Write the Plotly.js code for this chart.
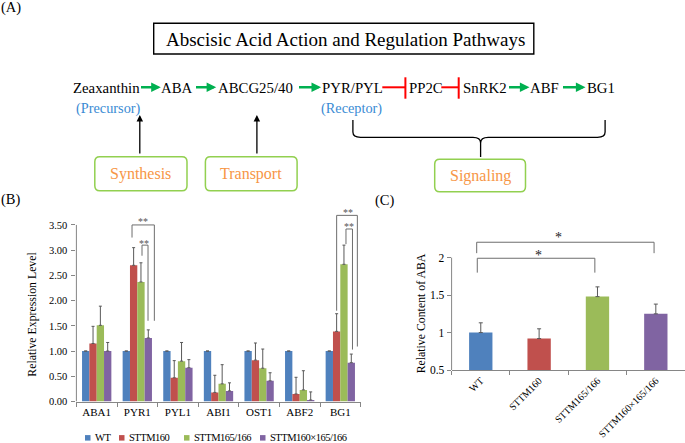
<!DOCTYPE html>
<html>
<head>
<meta charset="utf-8">
<script src="https://cdn.plot.ly/plotly-3.0.1.min.js"></script>
<style>html,body{margin:0;padding:0;background:#fff;}#chart{width:685px;height:443px;}</style>
</head>
<body>
<div id="chart"></div>
<script>
// ---- data ----
const genes = ['ABA1','PYR1','PYL1','ABI1','OST1','ABF2','BG1'];
const seriesNames = ['WT','STTM160','STTM165/166','STTM160×165/166'];
const wtExpr = [1.00,1.00,1.00,1.00,1.00,1.00,1.00];
const wtErr = [0,0,0,0,0,0,0];
const sttm160Expr = [1.15,2.70,0.47,0.18,0.82,0.15,1.39];
const sttm160Err = [0.34,0.35,0.34,0.34,0.34,0.33,0.35];
const sttm165Expr = [1.51,2.37,0.80,0.35,0.66,0.23,2.72];
const sttm165Err = [0.38,0.38,0.37,0.38,0.38,0.38,0.38];
const crossExpr = [1.00,1.26,0.67,0.21,0.41,0.03,0.77];
const crossErr = [0.17,0.16,0.16,0.16,0.16,0.16,0.17];

const abaLines = ['WT','STTM160','STTM165/166','STTM160×165/166'];
const abaContent = [1.00,0.92,1.48,1.25];
const abaErr = [0.13,0.13,0.13,0.13];

const colors = ['#4F81BD','#C0504D','#9BBB59','#8064A2'];

// ---- helpers ----
const W = 685, H = 443;
const px = x => x / W;
const py = y => 1 - y / H;
const SERIF = 'Liberation Serif, Times New Roman, serif';
const AX = '#868686';
const ERR = '#595959';

function txt(text, x, y, size, color, extra, ls) {
  const t = ls ? '<span style="letter-spacing:' + ls + 'px">' + text + '</span>' : text;
  return Object.assign({text: t, x: px(x), y: py(y), xref: 'paper', yref: 'paper',
    showarrow: false, xanchor: 'center', yanchor: 'middle',
    font: {family: SERIF, size: size, color: color || '#000'}}, extra || {});
}
function arrow(x1, y1, x0, y0, color, width, size) {
  return {text: '', x: px(x1), y: py(y1), xref: 'paper', yref: 'paper',
    showarrow: true, ax: x0 - x1, ay: y0 - y1, axref: 'pixel', ayref: 'pixel',
    arrowcolor: color, arrowwidth: width, arrowhead: 2, arrowsize: size, standoff: 0, startstandoff: 0};
}
function pline(x0, y0, x1, y1, color, width) {
  return {type: 'line', xref: 'paper', yref: 'paper', x0: px(x0), y0: py(y0), x1: px(x1), y1: py(y1),
    line: {color: color, width: width}};
}
function P(x, y) { return px(x).toFixed(5) + ',' + py(y).toFixed(5); }
function roundRect(x0, y0, x1, y1, r, color, width) {
  const d = 'M' + P(x0 + r, y0) + ' L' + P(x1 - r, y0) + ' Q' + P(x1, y0) + ' ' + P(x1, y0 + r) +
    ' L' + P(x1, y1 - r) + ' Q' + P(x1, y1) + ' ' + P(x1 - r, y1) +
    ' L' + P(x0 + r, y1) + ' Q' + P(x0, y1) + ' ' + P(x0, y1 - r) +
    ' L' + P(x0, y0 + r) + ' Q' + P(x0, y0) + ' ' + P(x0 + r, y0) + ' Z';
  return {type: 'path', xref: 'paper', yref: 'paper', path: d, line: {color: color, width: width}};
}
function bracket(xa, ya, xl, xr, ytop, ylb, yrb, color) {
  const s = (x0, y0, x1, y1) => ({type: 'line', xref: xa, yref: ya, x0: x0, y0: y0, x1: x1, y1: y1,
    line: {color: color, width: 1}});
  return [s(xl, ylb, xl, ytop), s(xl, ytop, xr, ytop), s(xr, ytop, xr, yrb)];
}

// ---- traces ----
const exprSeries = [wtExpr, sttm160Expr, sttm165Expr, crossExpr];
const exprErrs = [wtErr, sttm160Err, sttm165Err, crossErr];
const traces = exprSeries.map((vals, i) => ({
  type: 'bar', x: genes, y: vals, name: seriesNames[i], xaxis: 'x', yaxis: 'y',
  marker: {color: colors[i], line: {width: 0}},
  error_y: {type: 'data', symmetric: false, array: exprErrs[i], arrayminus: vals.map(() => 0),
    color: ERR, thickness: 1, width: 1.5},
  showlegend: false, hoverinfo: 'skip'
}));
traces.push({
  type: 'bar', x: abaLines, y: abaContent, xaxis: 'x2', yaxis: 'y2', width: abaLines.map(() => 0.4),
  marker: {color: colors, line: {width: 0}},
  error_y: {type: 'data', symmetric: false, array: abaErr, arrayminus: abaErr.map(() => 0),
    color: ERR, thickness: 1, width: 2},
  showlegend: false, hoverinfo: 'skip'
});

// ---- annotations / shapes ----
const ann = [];
const shp = [];

// panel labels
ann.push(txt('(A)', 10.5, 8, 14.5));
ann.push(txt('(B)', 10.5, 200, 14.5));
ann.push(txt('(C)', 385, 200.5, 14.5));

// Panel A title box
shp.push({type: 'rect', xref: 'paper', yref: 'paper', x0: px(153.7), x1: px(533.8), y0: py(54), y1: py(23.3),
  line: {color: '#000', width: 1.4}});
ann.push(txt('Abscisic Acid Action and Regulation Pathways', 345.3, 39, 19));

// pathway row
const rowY = 88.3;
const pathWords = [['Zeaxanthin', 106.2], ['ABA', 177.3], ['ABCG25/40', 256], ['PYR/PYL', 352.9],
  ['PP2C', 425.6], ['SnRK2', 485.3], ['ABF', 544.6], ['BG1', 600.7]];
pathWords.forEach(w => ann.push(txt(w[0], w[1], rowY, 14.8)));
const GREEN = '#00B050';
[[139.5, 160.8], [194.5, 216.2], [297.5, 321.1], [507.5, 529.5], [561.5, 585.5]].forEach(a =>
  ann.push(arrow(a[1], 87.3, a[0], 87.3, GREEN, 2.4, 0.8)));
const RED = '#FF0000';
shp.push(pline(382.3, 87.3, 405.4, 87.3, RED, 2));
shp.push(pline(405.4, 77.3, 405.4, 98.7, RED, 2));
shp.push(pline(441.3, 87.3, 458.7, 87.3, RED, 2));
shp.push(pline(458.7, 77.3, 458.7, 98.7, RED, 2));
const BLUE = '#3A8BD4';
ann.push(txt('(Precursor)', 108.5, 108.5, 14.3, BLUE));
ann.push(txt('(Receptor)', 351.2, 108.7, 14.3, BLUE));
ann.push(arrow(139.8, 115, 139.8, 155, '#000', 1.3, 1));
ann.push(arrow(256.9, 115, 256.9, 155, '#000', 1.3, 1));
// brace
const brace = 'M' + P(352.9, 120) + ' L' + P(352.9, 132) + ' Q' + P(352.9, 137.3) + ' ' + P(360.5, 137.3) +
  ' L' + P(473, 137.3) + ' Q' + P(480.6, 137.3) + ' ' + P(480.6, 143) +
  ' Q' + P(480.6, 137.3) + ' ' + P(488.2, 137.3) + ' L' + P(597.5, 137.3) +
  ' Q' + P(605.1, 137.3) + ' ' + P(605.1, 132) + ' L' + P(605.1, 120) +
  ' M' + P(480.6, 143) + ' L' + P(480.6, 157);
shp.push({type: 'path', xref: 'paper', yref: 'paper', path: brace, line: {color: '#000', width: 1.3}});
// category boxes
const BOXG = '#92D050', ORANGE = '#F79646';
shp.push(roundRect(94.8, 156.7, 187, 190.7, 5, BOXG, 1.5));
shp.push(roundRect(205.4, 156.7, 297.1, 190.7, 5, BOXG, 1.5));
shp.push(roundRect(434.7, 159.3, 525.5, 191.7, 5, BOXG, 1.5));
ann.push(txt('Synthesis', 140.9, 174, 16, ORANGE));
ann.push(txt('Transport', 251.2, 174, 16, ORANGE));
ann.push(txt('Signaling', 480.1, 176, 16, ORANGE));

// Panel B axis title and legend
ann.push(txt('Relative Expression Level', 31.7, 314, 11.8, '#000', {textangle: -90}));
const legendItems = [[85, 93.5], [119, 126.7], [184, 191.7], [260, 268.3]];
legendItems.forEach((it, i) => {
  shp.push({type: 'rect', xref: 'paper', yref: 'paper', x0: px(it[0]), x1: px(it[0] + 5.5),
    y0: py(440.6), y1: py(435.1), fillcolor: colors[i], line: {width: 0}});
  ann.push(txt(seriesNames[i], it[1], 437.8, 10.5, '#000', {xanchor: 'left'}, -0.5));
});
// y axis line B
shp.push({type: 'line', xref: 'paper', yref: 'y', x0: px(76.4), x1: px(76.4), y0: 0, y1: 3.5,
  line: {color: AX, width: 1}});
// significance B
const BR = '#6d6d6d';
shp.push(...bracket('x', 'y', 0.87, 1.42, 3.50, 3.25, 1.60, BR));
shp.push(...bracket('x', 'y', 1.116, 1.264, 3.10, 2.89, 1.60, BR));
shp.push(...bracket('x', 'y', 5.91, 6.42, 3.69, 1.80, 1.09, BR));
shp.push(...bracket('x', 'y', 6.14, 6.30, 3.42, 3.12, 1.03, BR));
const starB = (t, x, y) => ({text: t, x: x, y: y, xref: 'x', yref: 'y', showarrow: false,
  xanchor: 'center', yanchor: 'middle', font: {family: SERIF, size: 10, color: '#555'}});
ann.push(starB('**', 1.14, 3.56));
ann.push(starB('**', 1.165, 3.13));
ann.push(starB('**', 6.18, 3.75));
ann.push(starB('**', 6.21, 3.47));

// Panel C
ann.push(txt('Relative Content of ABA', 421, 313.3, 11.8, '#000', {textangle: -90}));
shp.push({type: 'line', xref: 'paper', yref: 'y2', x0: px(451.6), x1: px(451.6), y0: 0.5, y1: 2,
  line: {color: AX, width: 1}});
shp.push(...bracket('x2', 'y2', -0.07, 2.97, 2.206, 2.06, 2.06, BR));
shp.push(...bracket('x2', 'y2', -0.06, 1.955, 1.992, 1.80, 1.80, BR));
const starC = (x, y) => ({text: '*', x: x, y: y, xref: 'x2', yref: 'y2', showarrow: false,
  xanchor: 'center', yanchor: 'middle', font: {family: SERIF, size: 14, color: '#222'}});
ann.push(starC(1.34, 2.263));
ann.push(starC(0.996, 2.03));

const tickFont = {family: SERIF, size: 10, color: '#000'};
const layout = {
  width: W, height: H, margin: {l: 0, r: 0, t: 0, b: 0, pad: 0},
  paper_bgcolor: '#fff', plot_bgcolor: 'rgba(0,0,0,0)',
  showlegend: false, barmode: 'group', bargap: 0.278, bargroupgap: 0,
  xaxis: {domain: [76.4 / W, 360.6 / W], anchor: 'y', type: 'category', showline: true, linecolor: AX,
    linewidth: 1, ticks: 'outside', tickson: 'boundaries', ticklen: 4, tickcolor: AX,
    showgrid: false, zeroline: false, tickfont: Object.assign({}, tickFont, {size: 11}), fixedrange: true},
  yaxis: {domain: [1 - 401.5 / H, 1 - 207.3 / H], anchor: 'x', range: [0, 3.85],
    tickvals: [0, 0.5, 1, 1.5, 2, 2.5, 3, 3.5], ticktext: ['0.00','0.50','1.00','1.50','2.00','2.50','3.00','3.50'],
    showline: false, ticks: 'outside', ticklen: 4, tickcolor: AX, showgrid: false, zeroline: false,
    tickfont: Object.assign({}, tickFont, {size: 10.5}), ticklabelstandoff: 2, fixedrange: true},
  xaxis2: {domain: [451.6 / W, 1], anchor: 'y2', type: 'category', showline: true, linecolor: AX,
    linewidth: 1, ticks: 'outside', tickson: 'boundaries', ticklen: 4, tickcolor: AX,
    showgrid: false, zeroline: false, tickangle: -45, tickfont: tickFont, fixedrange: true},
  yaxis2: {domain: [1 - 370 / H, 1 - 233.7 / H], anchor: 'x2', range: [0.5, 2.32],
    tickvals: [0.5, 1, 1.5, 2], ticktext: ['0.5','1','1.5','2'],
    showline: false, ticks: 'outside', ticklen: 4, tickcolor: AX, showgrid: false, zeroline: false,
    tickfont: Object.assign({}, tickFont, {size: 11.5}), ticklabelstandoff: 0, fixedrange: true},
  annotations: ann,
  shapes: shp
};
Plotly.newPlot('chart', traces, layout, {displayModeBar: false, staticPlot: true});
</script>
</body>
</html>
